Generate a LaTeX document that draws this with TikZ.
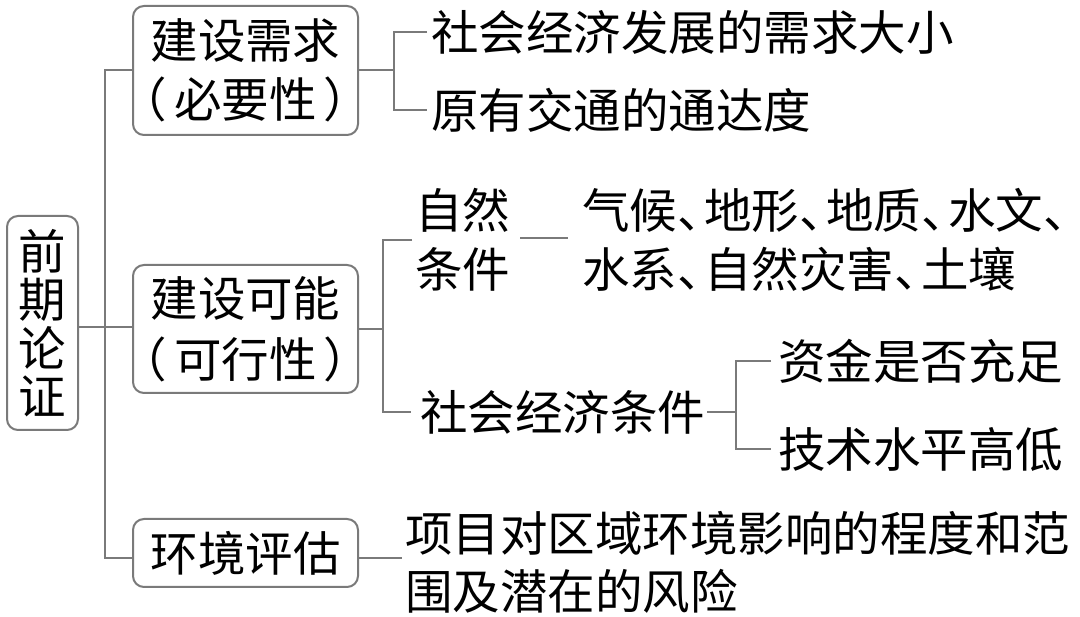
\documentclass[tikz,border=0pt]{standalone}
\usepackage{fontspec}
\newfontfamily\cjk{Noto Sans CJK SC}
\definecolor{linegray}{RGB}{122,122,122}
\newcommand{\dun}{\makebox[0.57em][l]{、}}
\begin{document}
\begin{tikzpicture}[x=1pt,y=-1pt,
  lnk/.style={draw=linegray,line width=2pt},
  box/.style={draw=linegray,line width=2pt,rounded corners=11pt,inner sep=0pt,align=center,font=\cjk\fontsize{47.5}{59}\selectfont},
  txt/.style={inner sep=0pt,anchor=west,align=left,font=\cjk\fontsize{47.5}{58.5}\selectfont}]
\useasboundingbox (0,0) rectangle (1080,617);
\fill[white] (0,0) rectangle (1080,617);
% boxes
\node[box,minimum width=71pt,minimum height=214pt,font=\cjk\fontsize{47.5}{48.5}\selectfont] (root) at (42.5,323) {前\\期\\论\\证};
\node[box,minimum width=225pt,minimum height=129pt] (need) at (245.5,70.5) {建设需求\\\makebox[200pt]{（\hspace{0.15em}必要性\hspace{0.15em}）}};
\node[box,minimum width=225pt,minimum height=128pt,font=\cjk\fontsize{47.5}{61}\selectfont] (able) at (245.5,329) {建设可能\\\makebox[200pt]{（\hspace{0.15em}可行性\hspace{0.15em}）}};
\node[box,minimum width=225pt,minimum height=68pt] (env) at (245.5,553) {环境评估};
% texts
\node[txt] (n1) at (431,32) {社会经济发展的需求大小};
\node[txt] (n2) at (431,110) {原有交通的通达度};
\node[txt] (nat) at (415,240) {自然\\条件};
\node[txt] (natd) at (582,240) {气候\dun 地形\dun 地质\dun 水文\dun\\水系\dun 自然灾害\dun 土壤};
\node[txt] (se) at (420,412) {社会经济条件};
\node[txt] (zj) at (778,361) {资金是否充足};
\node[txt] (js) at (778,449) {技术水平高低};
\node[txt] (proj) at (405,562.5) {项目对区域环境影响的程度和范\\围及潜在的风险};
% junction columns
\coordinate (J) at (105,0);
\coordinate (B1) at (394,0);
\coordinate (B2) at (383,0);
\coordinate (B3) at (736,0);
\coordinate (r0) at ([yshift=-4pt]root.east);
\coordinate (e3w) at ([yshift=-5pt]env.west);
\coordinate (e3e) at ([yshift=-5pt]env.east);
\coordinate (pj) at ([xshift=-3pt,yshift=4.5pt]proj.west);
% connectors
\draw[lnk] (r0) -- (r0 -| able.west);
\draw[lnk] (need.west) -- (need.west -| J) -- (e3w -| J) -- (e3w);
\draw[lnk] (need.east) -- (need.east -| B1);
\draw[lnk] ([xshift=-4pt]n1.west) -- (n1.west -| B1) -- (n2.west -| B1) -- ([xshift=-4pt]n2.west);
\draw[lnk] (able.east) -- (able.east -| B2);
\draw[lnk] ([xshift=-3pt]nat.west) -- (nat.west -| B2) -- (se.west -| B2) -- ([xshift=-9pt]se.west);
\draw[lnk] ([xshift=10pt,yshift=2pt]nat.east) -- ([xshift=-14pt,yshift=2pt]natd.west);
\draw[lnk] ([xshift=2pt]se.east) -- (se.east -| B3);
\draw[lnk] ([xshift=-7pt]zj.west) -- (zj.west -| B3) -- (js.west -| B3) -- ([xshift=-7pt]js.west);
\draw[lnk] (e3e) -- (e3e -| pj);
\end{tikzpicture}
\end{document}
